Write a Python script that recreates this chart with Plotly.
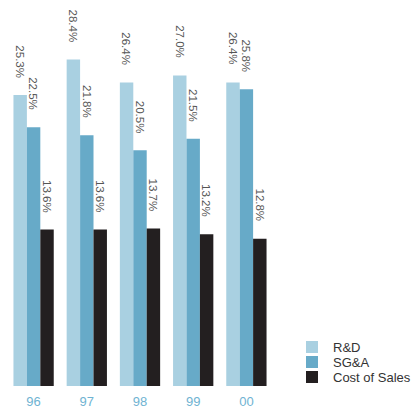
import plotly.graph_objects as go

years = ["96", "97", "98", "99", "00"]
series_names = ["R&D", "SG&A", "Cost of Sales"]
rnd = [25.3, 28.4, 26.4, 27.0, 26.4]
sga = [22.5, 21.8, 20.5, 21.5, 25.8]
cos = [13.6, 13.6, 13.7, 13.2, 12.8]
colors = ["#a9d0e1", "#67aac8", "#231f20"]

all_series = [rnd, sga, cos]
bargap = 0.243
w = (1 - bargap) / 3
xs = list(range(len(years)))

W, H = 418, 411
ml, mr, mt, mb = 7, 145, 41, 25
pw, ph = W - ml - mr, H - mt - mb

def px_x(p):
    return (p - ml) / pw

def px_y(p):
    return (H - mb - p) / ph

fig = go.Figure()
for k, (name, vals, col) in enumerate(zip(series_names, all_series, colors)):
    fig.add_trace(go.Bar(x=xs, y=vals, name=name, marker=dict(color=col, line=dict(width=0)),
                         width=w, offset=(k - 1.5) * w, showlegend=False))
    for i, v in enumerate(vals):
        fig.add_annotation(x=i + (k - 1) * w, y=v, text=f"{v:.1f}%", textangle=90,
                           showarrow=False, xanchor="center", yanchor="bottom", yshift=15,
                           font=dict(size=11.5, color="#555555", family="Liberation Sans, Arial"))
    # legend entry
    cy = 347 + 15 * k
    fig.add_shape(type="rect", xref="paper", yref="paper",
                  x0=px_x(306), x1=px_x(318), y0=px_y(cy + 6), y1=px_y(cy - 6),
                  fillcolor=col, line=dict(width=0))
    fig.add_annotation(xref="paper", yref="paper", x=px_x(331), y=px_y(cy), text=name,
                       showarrow=False, xanchor="left", yanchor="middle",
                       font=dict(size=13, color="#333333", family="Liberation Sans, Arial"))

fig.update_layout(
    width=W, height=H,
    margin=dict(l=ml, r=mr, t=mt, b=mb, autoexpand=False),
    plot_bgcolor="white", paper_bgcolor="white",
    font=dict(family="Liberation Sans, Arial", size=13, color="#333333"),
    showlegend=False,
    xaxis=dict(range=[-0.5, 4.5], tickvals=xs, ticktext=years, showgrid=False, zeroline=False,
               showline=False, ticks="", ticklabelstandoff=6, automargin=False,
               tickfont=dict(size=13, color="#6fb3d2")),
    yaxis=dict(range=[0, 30], visible=False, automargin=False),
)
fig.write_html("out.html")
